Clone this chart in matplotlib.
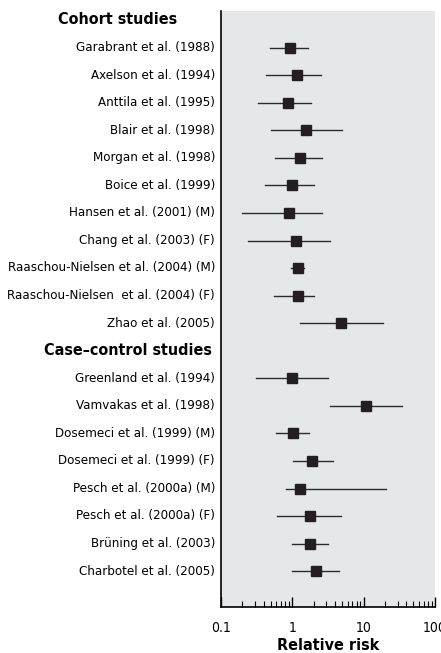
import matplotlib
matplotlib.use("Agg")
import matplotlib.pyplot as plt
from matplotlib.ticker import LogLocator, NullFormatter, FixedLocator, FixedFormatter

plt.rcParams['font.family'] = ['DejaVu Sans']
plt.rcParams['font.stretch'] = 'condensed'

# rows in drawing order (headers have no values)
labels = ["Cohort studies",
          "Garabrant et al. (1988)", "Axelson et al. (1994)", "Anttila et al. (1995)",
          "Blair et al. (1998)", "Morgan et al. (1998)", "Boice et al. (1999)",
          "Hansen et al. (2001) (M)", "Chang et al. (2003) (F)",
          "Raaschou-Nielsen et al. (2004) (M)", "Raaschou-Nielsen  et al. (2004) (F)",
          "Zhao et al. (2005)",
          "Case\u2013control studies",
          "Greenland et al. (1994)", "Vamvakas et al. (1998)",
          "Dosemeci et al. (1999) (M)", "Dosemeci et al. (1999) (F)",
          "Pesch et al. (2000a) (M)", "Pesch et al. (2000a) (F)",
          "Br\u00fcning et al. (2003)", "Charbotel et al. (2005)"]
is_header = [True] + [False] * 11 + [True] + [False] * 8

rr = [None, 0.92, 1.16, 0.86, 1.57, 1.30, 0.99, 0.89, 1.14, 1.20, 1.20, 4.85,
      None, 0.99, 10.8, 1.02, 1.91, 1.30, 1.77, 1.79, 2.13]
lo = [None, 0.49, 0.43, 0.33, 0.51, 0.58, 0.41, 0.20, 0.24, 0.96, 0.56, 1.27,
      None, 0.31, 3.43, 0.60, 1.02, 0.82, 0.61, 1.00, 1.00]
hi = [None, 1.64, 2.54, 1.83, 5.06, 2.59, 2.00, 2.59, 3.43, 1.48, 2.04, 18.9,
      None, 3.14, 34.7, 1.70, 3.74, 20.9, 4.85, 3.18, 4.54]

xticks = [0.1, 1, 10, 100]
xticklabels = ["0.1", "1", "10", "100"]

fig = plt.figure(figsize=(4.41, 6.53), dpi=100)
ax = fig.add_axes([0.501, 0.0705, 0.485, 0.9125])
ax.set_facecolor("#e6e7e9")

for i in range(len(labels)):
    if is_header[i]:
        continue
    ax.plot([lo[i], hi[i]], [i, i], color="#2b2b2b", lw=1.0, zorder=2)
    ax.plot(rr[i], i, marker="s", ms=6.8, color="#231f20", zorder=3)

ax.set_xscale("log")
ax.set_xlim(0.1, 100)
ax.set_ylim(21.3, -0.33)

ax.xaxis.set_major_locator(FixedLocator(xticks))
ax.xaxis.set_major_formatter(FixedFormatter(xticklabels))
ax.xaxis.set_minor_locator(LogLocator(base=10, subs=range(2, 10)))
ax.xaxis.set_minor_formatter(NullFormatter())
ax.tick_params(axis="x", which="major", direction="in", length=7, width=1, labelsize=10, pad=10)
ax.tick_params(axis="x", which="minor", direction="in", length=4, width=0.8)
ax.set_yticks([])

for s in ["top", "right"]:
    ax.spines[s].set_visible(False)
ax.spines["left"].set_linewidth(1.2)
ax.spines["bottom"].set_linewidth(1.2)

ax.set_xlabel("Relative risk", fontsize=11.5, fontweight="bold", labelpad=2)

# row labels, placed in figure pixel space to the left of the axes
W, H = 441, 653
for i, lab in enumerate(labels):
    ypix = 20 + i * 27.55
    if is_header[i]:
        xr = 177 if i == 0 else 212
        fig.text(xr / W, 1 - ypix / H, lab, ha="right", va="center",
                 fontsize=11.5, fontweight="bold")
    else:
        fig.text(215 / W, 1 - ypix / H, lab, ha="right", va="center", fontsize=9.5)

fig.savefig("out.png", dpi=100)
